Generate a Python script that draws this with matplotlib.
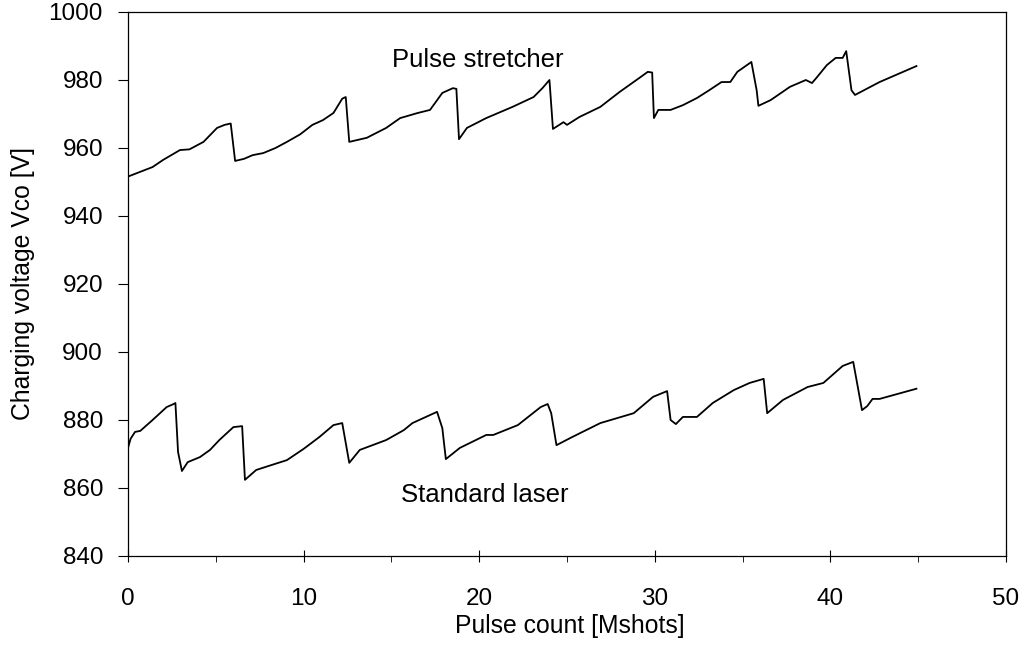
import matplotlib
matplotlib.use("Agg")
import matplotlib.pyplot as plt
from matplotlib.ticker import MultipleLocator

plt.rcParams['font.family'] = ['Liberation Sans', 'DejaVu Sans']

# Pulse stretcher: pulse count [Mshots], charging voltage [V]
stretcher_x = [0, 0.3, 0.8, 1.4, 2.0, 2.96, 3.5, 4.3, 5.07, 5.5, 5.85, 6.1, 6.6, 7.1, 7.7,
               8.4, 9.05, 9.8, 10.5, 11.1, 11.7, 12.2, 12.4, 12.6, 13.6, 14.7, 15.5, 16.5,
               17.2, 17.9, 18.5, 18.7, 18.85, 19.3, 20.4, 21.9, 23.1, 23.6, 24.0, 24.2, 24.8,
               25.0, 25.7, 26.9, 28.0, 29.2, 29.6, 29.85, 29.95, 30.2, 30.9, 31.6, 32.4, 33.1,
               33.8, 34.3, 34.7, 35.5, 35.8, 35.9, 36.6, 37.7, 38.6, 38.95, 39.2, 39.8, 40.3,
               40.7, 40.9, 41.2, 41.4, 42.8, 44.9]
stretcher_v = [951.6, 952.2, 953.2, 954.4, 956.5, 959.4, 959.6, 961.8, 965.9, 966.8, 967.2,
               956.2, 956.8, 957.9, 958.5, 960.0, 961.8, 964.0, 966.8, 968.2, 970.3, 974.5,
               975.0, 961.8, 963.0, 965.9, 968.8, 970.3, 971.2, 976.2, 977.6, 977.4, 962.6,
               965.9, 968.8, 972.1, 975.0, 977.6, 980.0, 965.6, 967.6, 966.8, 969.1, 972.1,
               976.5, 980.9, 982.4, 982.2, 968.8, 971.2, 971.2, 972.6, 974.7, 977.0, 979.4,
               979.4, 982.4, 985.3, 977.0, 972.4, 974.1, 978.0, 980.0, 979.1, 980.6, 984.4,
               986.5, 986.5, 988.5, 977.0, 975.6, 979.4, 984.1]

# Standard laser
standard_x = [0, 0.15, 0.4, 0.7, 1.4, 2.2, 2.6, 2.7, 2.85, 3.07, 3.4, 4.1, 4.67, 5.2, 6.0,
              6.5, 6.66, 7.3, 8.2, 9.05, 10.0, 10.9, 11.7, 12.2, 12.6, 13.2, 14.7, 15.7, 16.2,
              17.6, 17.9, 18.1, 18.9, 20.4, 20.8, 22.2, 23.5, 23.9, 24.1, 24.4, 25.3, 26.9,
              28.8, 29.9, 30.7, 30.9, 31.2, 31.6, 32.4, 33.3, 34.5, 35.4, 36.2, 36.4, 37.3,
              38.7, 39.6, 40.7, 41.3, 41.8, 42.1, 42.4, 42.8, 44.9]
standard_v = [871.8, 874.5, 876.5, 876.8, 880.0, 883.8, 884.7, 885.0, 870.6, 865.0, 867.6,
              869.1, 871.2, 874.1, 877.9, 878.2, 862.4, 865.3, 866.8, 868.2, 871.5, 875.0,
              878.5, 879.1, 867.4, 871.2, 874.1, 877.0, 879.1, 882.4, 877.6, 868.5, 871.8,
              875.6, 875.6, 878.5, 883.8, 884.7, 882.0, 872.6, 875.0, 879.1, 882.0, 886.8,
              888.5, 880.0, 878.8, 880.9, 880.9, 885.0, 888.8, 890.9, 892.1, 882.0, 885.9,
              889.7, 890.9, 895.9, 897.1, 882.9, 884.1, 886.2, 886.2, 889.2]

x_ticks = [0, 10, 20, 30, 40, 50]
y_ticks = [840, 860, 880, 900, 920, 940, 960, 980, 1000]

fig = plt.figure(figsize=(10.24, 6.63), dpi=100)
ax = fig.add_axes([128/1024, 1 - 556/663, 878/1024, 544/663])

ax.plot(stretcher_x, stretcher_v, color='black', lw=1.3)
ax.plot(standard_x, standard_v, color='black', lw=1.3)

ax.set_xlim(0, 50)
ax.set_ylim(840, 1000)
ax.set_xticks(x_ticks)
ax.set_yticks(y_ticks)
ax.xaxis.set_minor_locator(MultipleLocator(5))

for s in ax.spines.values():
    s.set_linewidth(0.9)

ax.tick_params(axis='x', which='major', direction='inout', length=8, width=0.8,
               labelsize=17.5, pad=19)
ax.tick_params(axis='x', which='minor', direction='out', length=4, width=0.6)
ax.tick_params(axis='y', which='major', direction='out', length=7, width=0.8,
               labelsize=17.5, pad=11)

ax.set_xlabel('Pulse count [Mshots]', fontsize=17.8)
ax.set_ylabel('Charging voltage Vco [V]', fontsize=17.8)
ax.xaxis.set_label_coords((570 - 128) / 878, (556 - 614) / 544)
ax.yaxis.set_label_coords((35 - 128) / 878, (556 - 284) / 544)

ax.text(19.93, 985.9, 'Pulse stretcher', fontsize=18.5, ha='center', va='center')
ax.text(20.3, 857.9, 'Standard laser', fontsize=18.5, ha='center', va='center')

fig.savefig('out.png', dpi=100)
